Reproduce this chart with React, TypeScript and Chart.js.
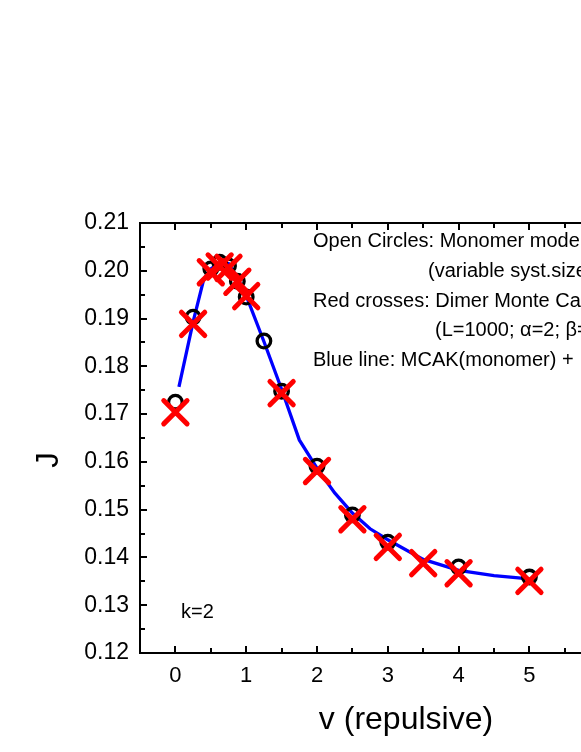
import React, { useEffect, useRef } from "react";
import { Chart, registerables } from "chart.js";

Chart.register(...registerables);

// ---- Data ----
const lineV = [0.05, 0.25, 0.4, 0.5, 0.625, 0.75, 0.875, 1.0, 1.25, 1.5, 1.75, 2.0, 2.25, 2.5, 2.75, 3.0, 3.5, 4.0, 4.5, 5.0];
const lineJ = [0.1757, 0.1893, 0.1982, 0.2004, 0.2017, 0.2015, 0.1986, 0.1948, 0.1852, 0.1752, 0.1646, 0.1587, 0.1535, 0.1493, 0.1460, 0.1437, 0.1396, 0.1373, 0.1362, 0.1355];

const circleV = [0, 0.25, 0.5, 0.625, 0.75, 0.875, 1.0, 1.25, 1.5, 2, 2.5, 3, 4, 5];
const circleJ = [0.1725, 0.1903, 0.2004, 0.2018, 0.2010, 0.1978, 0.1945, 0.1853, 0.1748, 0.1591, 0.1489, 0.1432, 0.1380, 0.1359];

const crossV = [0, 0.25, 0.5, 0.625, 0.75, 0.875, 1.0, 1.5, 2, 2.5, 3, 3.5, 4, 5];
const crossJ = [0.1704, 0.1889, 0.1997, 0.2009, 0.2006, 0.1977, 0.1947, 0.1744, 0.1581, 0.1480, 0.1422, 0.1388, 0.1367, 0.1351];

const xTickValues = [0, 1, 2, 3, 4, 5];
const yTickValues = [0.12, 0.13, 0.14, 0.15, 0.16, 0.17, 0.18, 0.19, 0.2, 0.21];

const xTitle = "v (repulsive)";
const yTitle = "J";
const annotation = "k=2";
const legendLines = [
  "Open Circles: Monomer model",
  "(variable syst.size)",
  "Red crosses: Dimer Monte Carlo",
  "(L=1000; \u03B1=2; \u03B2=...)",
  "Blue line: MCAK(monomer) + ...",
];

const FONT = "'Liberation Sans', Arial, Helvetica, sans-serif";
const W = 581;
const H = 752;

const framePlugin = {
  id: "frame",
  beforeDatasetDraw(chart: any) {
    chart.ctx.save();
    chart.ctx.lineCap = "round";
  },
  afterDatasetDraw(chart: any) {
    chart.ctx.restore();
  },
  afterDraw(chart: any) {
    const ctx = chart.ctx;
    const { left, right, top, bottom } = chart.chartArea;
    const xs = chart.scales.x;
    const ys = chart.scales.y;
    ctx.save();
    ctx.strokeStyle = "#000";
    ctx.lineWidth = 2;
    ctx.lineCap = "butt";
    ctx.beginPath();
    ctx.moveTo(left - 1, top);
    ctx.lineTo(right + 2, top);
    ctx.moveTo(left, top - 1);
    ctx.lineTo(left, bottom + 1);
    ctx.moveTo(left - 1, bottom);
    ctx.lineTo(right + 2, bottom);
    // x ticks (major at integers, minor at halves)
    for (let i = 1; i * 0.5 - 0.5 <= xs.max; i++) {
      const v = i * 0.5 - 0.5;
      if (v <= xs.min) continue;
      const px = Math.round(xs.getPixelForValue(v));
      const len = Math.abs(v - Math.round(v)) < 1e-6 ? 7 : 5;
      ctx.moveTo(px, bottom);
      ctx.lineTo(px, bottom - len);
      ctx.moveTo(px, top);
      ctx.lineTo(px, top + len);
    }
    // y ticks
    for (let i = 1; i < 18; i++) {
      const v = 0.12 + i * 0.005;
      const py = Math.round(ys.getPixelForValue(v));
      const len = i % 2 === 0 ? 7 : 5;
      ctx.moveTo(left, py);
      ctx.lineTo(left + len, py);
    }
    ctx.stroke();

    ctx.fillStyle = "#000";
    // x title
    ctx.font = `32px ${FONT}`;
    ctx.textAlign = "center";
    ctx.textBaseline = "alphabetic";
    ctx.fillText(xTitle, 406, 729);
    // y title
    ctx.save();
    ctx.translate(49, 460);
    ctx.rotate(-Math.PI / 2);
    ctx.font = `31px ${FONT}`;
    ctx.textAlign = "center";
    ctx.textBaseline = "middle";
    ctx.fillText(yTitle, 0, 0);
    ctx.restore();
    // annotation
    ctx.font = `20px ${FONT}`;
    ctx.textAlign = "left";
    ctx.textBaseline = "alphabetic";
    ctx.fillText(annotation, 181, 618);
    // legend text
    const lx = [313, 428, 313, 435, 313];
    const ly = [247, 277, 307, 336, 366];
    legendLines.forEach((t, i) => ctx.fillText(t, lx[i], ly[i]));
    ctx.restore();
  },
};

export default function App() {
  const ref = useRef<HTMLCanvasElement | null>(null);
  useEffect(() => {
    document.body.style.margin = "0";
    document.body.style.overflow = "hidden";
    const canvas = ref.current!;
    const chart = new Chart(canvas, {
      type: "scatter",
      data: {
        datasets: [
          {
            label: "crosses",
            data: crossV.map((v, i) => ({ x: v, y: crossJ[i] })),
            pointStyle: "crossRot",
            pointRadius: 16.5,
            pointBorderWidth: 5,
            borderColor: "#ff0000",
            backgroundColor: "#ff0000",
            showLine: false,
            order: 1,
            clip: false,
          },
          {
            label: "circles",
            data: circleV.map((v, i) => ({ x: v, y: circleJ[i] })),
            pointStyle: "circle",
            pointRadius: 6.8,
            pointBorderWidth: 3.3,
            borderColor: "#000000",
            backgroundColor: "rgba(0,0,0,0)",
            showLine: false,
            order: 2,
            clip: false,
          },
          {
            label: "line",
            data: lineV.map((v, i) => ({ x: v, y: lineJ[i] })),
            showLine: true,
            borderColor: "#0000ff",
            borderWidth: 3.3,
            pointRadius: 0,
            tension: 0,
            order: 3,
          },
        ],
      },
      options: {
        responsive: false,
        animation: false,
        devicePixelRatio: 1,
        layout: { autoPadding: false, padding: { top: 223, left: 0, right: 0, bottom: 0 } },
        plugins: { legend: { display: false }, tooltip: { enabled: false } },
        scales: {
          x: {
            type: "linear",
            min: -0.5,
            max: -0.5 + (581 - 140) / 70.8,
            grid: { display: false, drawTicks: false },
            border: { display: false },
            afterBuildTicks: (s: any) => {
              s.ticks = xTickValues.map((v) => ({ value: v }));
            },
            afterFit: (s: any) => {
              s.height = 99;
              s.paddingLeft = 0;
              s.paddingRight = 0;
            },
            ticks: {
              color: "#000",
              padding: 10,
              maxRotation: 0,
              font: { family: FONT, size: 22 },
              callback: (v: any) => String(v),
            },
          },
          y: {
            type: "linear",
            min: 0.12,
            max: 0.21,
            grid: { display: false, drawTicks: false },
            border: { display: false },
            afterBuildTicks: (s: any) => {
              s.ticks = yTickValues.map((v) => ({ value: v }));
            },
            afterFit: (s: any) => {
              s.width = 140;
              s.paddingTop = 0;
              s.paddingBottom = 0;
            },
            ticks: {
              color: "#000",
              padding: 11,
              font: { family: FONT, size: 23 },
              callback: (v: any) => Number(v).toFixed(2),
            },
          },
        },
      },
      plugins: [framePlugin],
    } as any);
    return () => chart.destroy();
  }, []);
  return (
    <div style={{ width: W, height: H, overflow: "hidden", background: "#fff" }}>
      <canvas ref={ref} width={W} height={H} style={{ display: "block", width: W, height: H }} />
    </div>
  );
}
